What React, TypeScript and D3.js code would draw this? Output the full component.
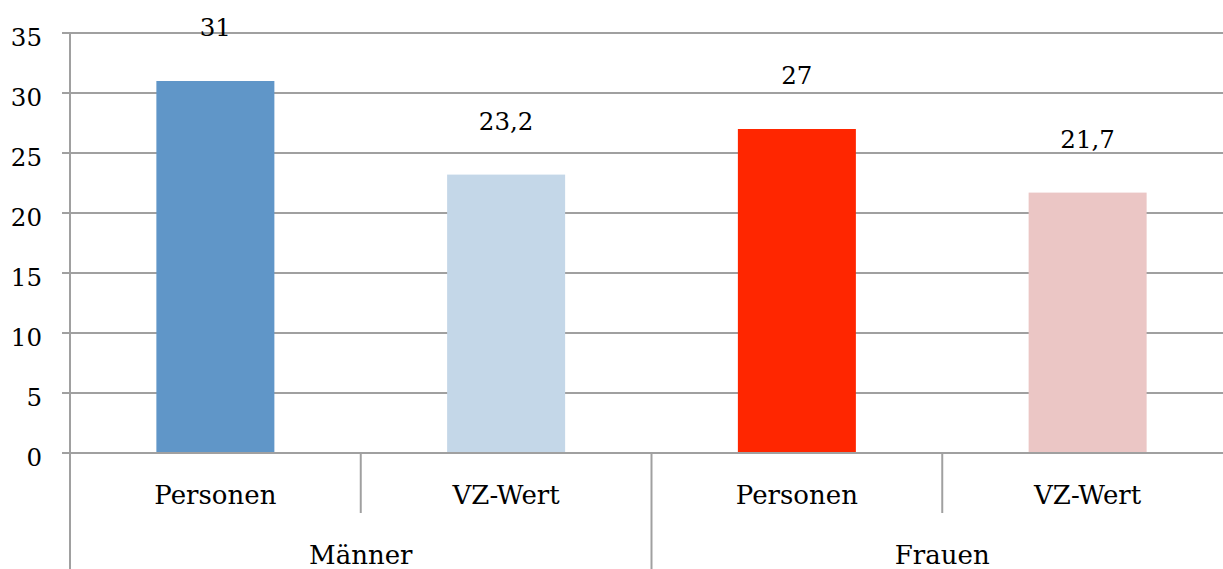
import React from "react";
import * as d3 from "d3";

const groups = ["Männer", "Frauen"];
const subCategories = ["Personen", "VZ-Wert", "Personen", "VZ-Wert"];
const values = [31, 23.2, 27, 21.7];
const valueLabels = ["31", "23,2", "27", "21,7"];
const barColors = ["#6096c8", "#c4d7e8", "#ff2600", "#ebc6c5"];
const yTicks = [0, 5, 10, 15, 20, 25, 30, 35];

const W = 1223;
const H = 569;
const left = 70;
const right = 1233;
const top = 33;
const bottom = 453;
const grid = "#a0a0a0";
const font = "'DejaVu Serif', serif";

export default function App() {
  const y = d3.scaleLinear().domain([0, 35]).range([bottom, top]);
  const x = d3.scaleBand<number>().domain(d3.range(4)).range([left, right]).paddingInner(0).paddingOuter(0);
  const bw = x.bandwidth();
  const barW = 118;
  const groupW = bw * 2;
  return (
    <svg width={W} height={H} style={{ position: "absolute", left: 0, top: 0, background: "#fff" }}>
      <rect x={0} y={0} width={W} height={H} fill="#fff" />
      {yTicks.map((t) => (
        <g key={t}>
          <line x1={62} x2={right} y1={y(t)} y2={y(t)} stroke={grid} strokeWidth={2} />
          <text x={42} y={y(t) + 13} textAnchor="end" fontFamily={font} fontSize={24.5} fill="#000">
            {t}
          </text>
        </g>
      ))}
      <line x1={left} x2={left} y1={top} y2={H} stroke={grid} strokeWidth={2} />
      {values.map((v, i) => {
        const cx = (x(i) as number) + bw / 2;
        return (
          <g key={i}>
            <rect x={cx - barW / 2} y={y(v)} width={barW} height={bottom - y(v)} fill={barColors[i]} />
            <text x={cx} y={y(v) - 45} textAnchor="middle" fontFamily={font} fontSize={24.5} fill="#000">
              {valueLabels[i]}
            </text>
            <text x={cx} y={504} textAnchor="middle" fontFamily={font} fontSize={26} fill="#000">
              {subCategories[i]}
            </text>
            {i > 0 && (
              <line
                x1={x(i) as number}
                x2={x(i) as number}
                y1={bottom}
                y2={i % 2 === 0 ? H : 513}
                stroke={grid}
                strokeWidth={2}
              />
            )}
          </g>
        );
      })}
      <line x1={left} x2={right} y1={bottom} y2={bottom} stroke={grid} strokeWidth={2} />
      {groups.map((g, gi) => (
        <text
          key={g}
          x={left + groupW * gi + groupW / 2}
          y={564}
          textAnchor="middle"
          fontFamily={font}
          fontSize={26}
          fill="#000"
        >
          {g}
        </text>
      ))}
    </svg>
  );
}
